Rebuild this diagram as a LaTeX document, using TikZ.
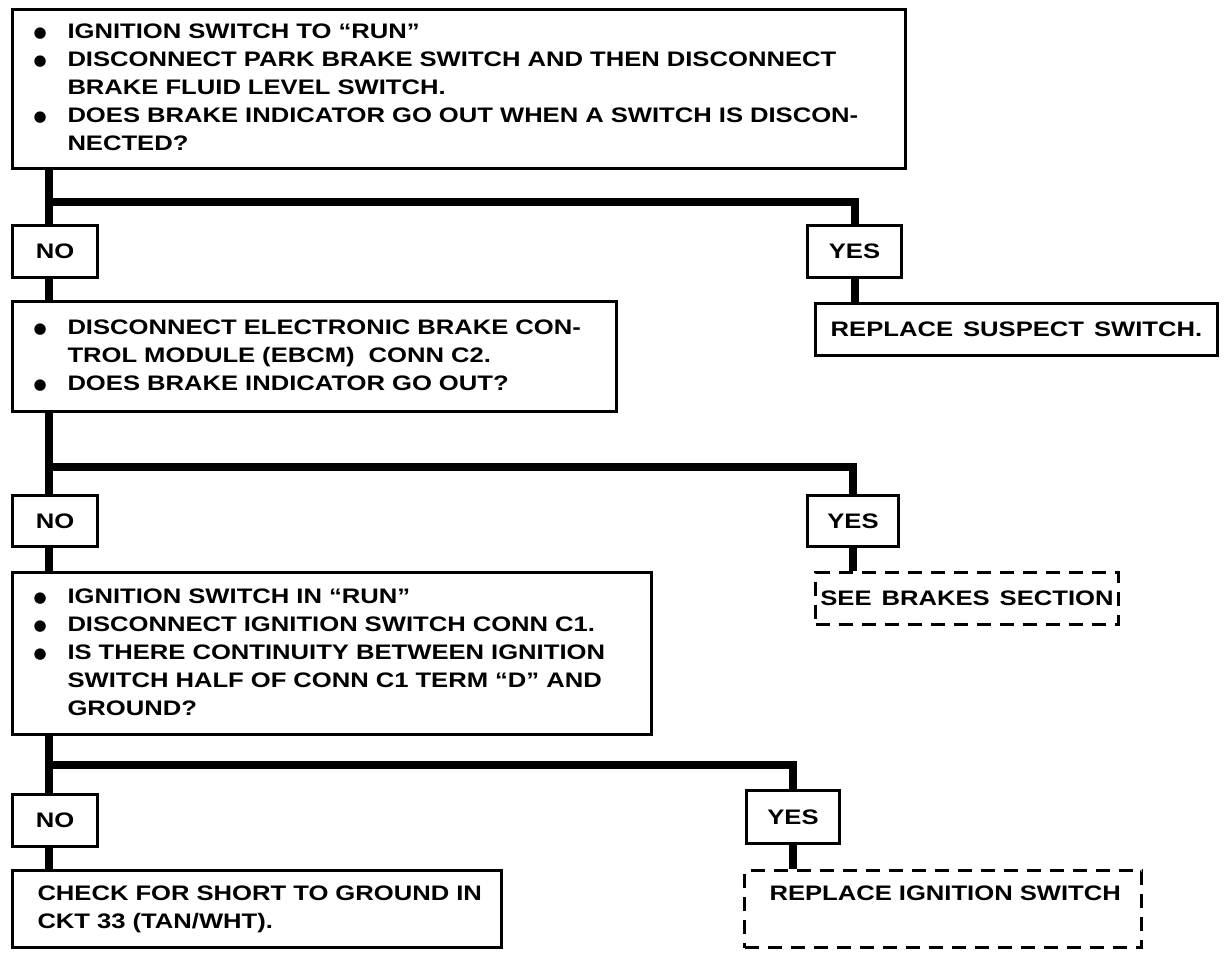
\documentclass[tikz,border=0pt]{standalone}
\usepackage{fontspec}
\setmainfont{Liberation Sans}[FakeStretch=1.22, WordSpace=1.4]
\newfontfamily\dejavu{DejaVu Sans}
\usetikzlibrary{calc}
\newcommand\bul{\raisebox{1pt}{\dejavu\fontsize{15}{15}\selectfont ●}}
\begin{document}
\begin{tikzpicture}[x=1pt,y=-1pt,
  every node/.style={font=\fontsize{21}{28}\selectfont\bfseries},
  box/.style={draw, line width=3pt, rectangle, anchor=north west, inner ysep=0pt},
  txtbox/.style={box, align=left, inner xsep=#1},
  dbox/.style={box, dashed, dash pattern=on 14pt off 9pt},
  answer/.style={box, inner sep=0pt},
  conn/.style={line width=8pt}]
\useasboundingbox (0,0) rectangle (1232,956);
\fill[white] (0,0) rectangle (1232,956);

% boxes
\node[txtbox=21pt, minimum width=893pt, minimum height=159pt, text width=851pt] (b1) at (11,8)
 {\begin{tabular}{@{}p{34pt}@{}l@{}}
 \bul & IGNITION SWITCH TO “RUN”\\
 \bul & DISCONNECT PARK BRAKE SWITCH AND THEN DISCONNECT\\
      & BRAKE FLUID LEVEL SWITCH.\\
 \bul & DOES BRAKE INDICATOR GO OUT WHEN A SWITCH IS DISCON-\\
      & NECTED?
 \end{tabular}};
\node[answer, minimum width=85pt, minimum height=52pt] (no1) at (11,224) {NO};
\node[answer, minimum width=94pt, minimum height=52pt] (yes1) at (806,224) {YES};
\node[box, inner xsep=4pt, minimum width=402pt, minimum height=52pt] (rs) at (814,302) {REPLACE SUSPECT SWITCH.};

\node[txtbox=21pt, minimum width=604pt, minimum height=110pt, text width=562pt] (b2) at (11,300)
 {\begin{tabular}{@{}p{34pt}@{}l@{}}
 \bul & DISCONNECT ELECTRONIC BRAKE CON-\\
      & TROL MODULE (EBCM)\ \ CONN C2.\\
 \bul & DOES BRAKE INDICATOR GO OUT?
 \end{tabular}};
\node[answer, minimum width=85pt, minimum height=51pt] (no2) at (11,494) {NO};
\node[answer, minimum width=91pt, minimum height=51pt] (yes2) at (806,494) {YES};
\node[dbox, inner xsep=4pt, minimum width=303pt, minimum height=52pt] (sb) at (814,571) {SEE BRAKES SECTION};

\node[txtbox=21pt, minimum width=639pt, minimum height=162pt, text width=597pt] (b3) at (11,571)
 {\begin{tabular}{@{}p{34pt}@{}l@{}}
 \bul & IGNITION SWITCH IN “RUN”\\
 \bul & DISCONNECT IGNITION SWITCH CONN C1.\\
 \bul & IS THERE CONTINUITY BETWEEN IGNITION\\
      & SWITCH HALF OF CONN C1 TERM “D” AND\\
      & GROUND?
 \end{tabular}};
\node[answer, minimum width=85pt, minimum height=52pt] (no3) at (11,793) {NO};
\node[answer, minimum width=93pt, minimum height=53pt] (yes3) at (745,789) {YES};
\node[txtbox=25pt, minimum width=489pt, minimum height=77pt, text width=439pt] (cs) at (11,869)
 {\begin{tabular}{@{}l@{}}CHECK FOR SHORT TO GROUND IN\\ CKT 33 (TAN/WHT).\end{tabular}};
\node[dbox, align=left, inner xsep=25pt, minimum width=397pt, minimum height=77pt, text width=347pt] (ri) at (743,869)
 {\begin{tabular}{@{}l@{}}REPLACE IGNITION SWITCH\\ \mbox{}\end{tabular}};

% connectors
\coordinate (t1) at (49,202);
\coordinate (t2) at (49,467);
\coordinate (t3) at (49,765);
\draw[conn] (b1.south -| t1) -- (no1.north -| t1);
\draw[conn] (t1) -- (t1 -| yes1.north) -- (yes1.north);
\draw[conn] (no1.south -| t1) -- (b2.north -| t1);
\draw[conn] (yes1.south) -- (rs.north -| yes1.south);

\draw[conn] (b2.south -| t2) -- (no2.north -| t2);
\draw[conn] (t2) -- (t2 -| yes2.north) -- (yes2.north);
\draw[conn] (no2.south -| t2) -- (b3.north -| t2);
\draw[conn] (yes2.south) -- (sb.north -| yes2.south);

\draw[conn] (b3.south -| t3) -- (no3.north -| t3);
\draw[conn] (t3) -- (t3 -| yes3.north) -- (yes3.north);
\draw[conn] (no3.south -| t3) -- (cs.north -| t3);
\draw[conn] (yes3.south) -- (ri.north -| yes3.south);
\end{tikzpicture}
\end{document}
